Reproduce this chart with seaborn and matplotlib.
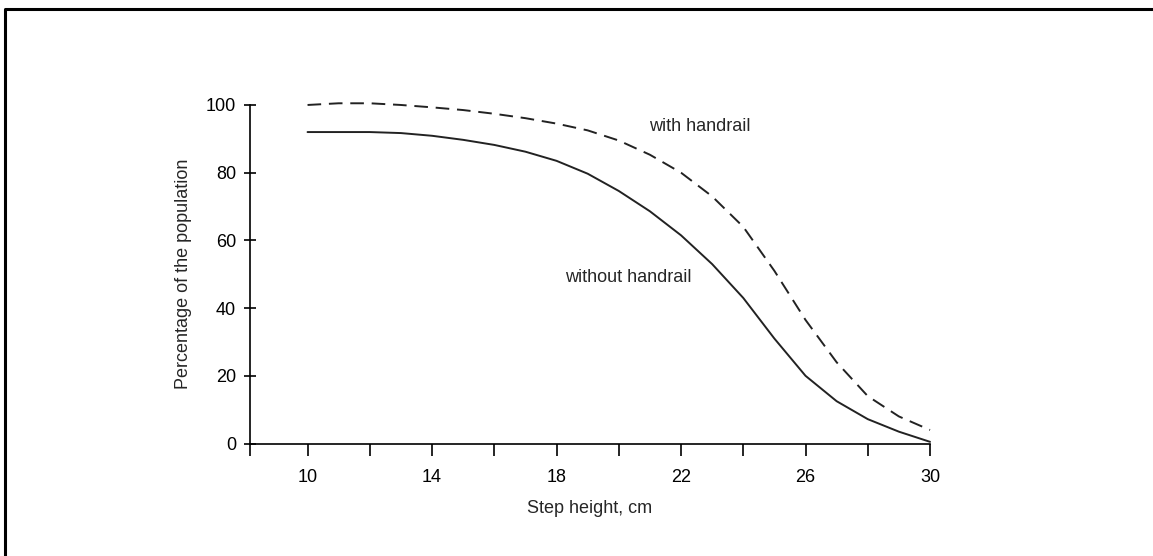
import matplotlib
matplotlib.use("Agg")
import matplotlib.pyplot as plt
from matplotlib.lines import Line2D
import pandas as pd
import seaborn as sns

# Step height (cm) and share of the population able to climb it (%)
step_height = [10, 11, 12, 13, 14, 15, 16, 17, 18, 19, 20,
               21, 22, 23, 24, 25, 26, 27, 28, 29, 30]
without_handrail = [92, 92, 92, 91.7, 90.9, 89.7, 88.2, 86.2, 83.5, 79.7, 74.6,
                    68.6, 61.5, 53, 43, 31, 20, 12.5, 7.2, 3.5, 0.5]
with_handrail = [100, 100.5, 100.5, 100, 99.3, 98.5, 97.4, 96.1, 94.5, 92.5, 89.5,
                 85.3, 80, 73, 64, 51, 36.5, 24, 14, 8, 4]

x_ticks = [10, 12, 14, 16, 18, 20, 22, 24, 26, 28, 30]
x_tick_labels = ["10", "", "14", "", "18", "", "22", "", "26", "", "30"]
y_ticks = [0, 20, 40, 60, 80, 100]

df = pd.DataFrame({
    "height": step_height * 2,
    "pct": without_handrail + with_handrail,
    "series": ["without handrail"] * len(step_height) + ["with handrail"] * len(step_height),
})

sns.set_style("white")
plt.rcParams["font.family"] = ["Liberation Sans", "DejaVu Sans"]
FS = 13

fig = plt.figure(figsize=(11.53, 5.56), dpi=100)
ax = fig.add_axes([0.2168, 0.2023, 0.8066 - 0.2168, 0.8112 - 0.2023])

sns.lineplot(data=df[df.series == "without handrail"], x="height", y="pct",
             color="#222222", linewidth=1.4, ax=ax, clip_on=False)
sns.lineplot(data=df[df.series == "with handrail"], x="height", y="pct",
             color="#222222", linewidth=1.4, ax=ax, clip_on=False)
ax.lines[1].set_dashes((7, 4))
for ln in ax.lines:
    ln.set_solid_joinstyle("round")
    ln.set_dash_joinstyle("round")

x_left = 8.15
ax.set_xlim(x_left, 30)
ax.set_ylim(0, 100)

ax.set_xticks([x_left] + x_ticks)
ax.set_xticklabels([""] + x_tick_labels)
ax.set_yticks(y_ticks)
ax.set_yticklabels([str(v) for v in y_ticks])

for side in ("top", "right"):
    ax.spines[side].set_visible(False)
for side in ("left", "bottom"):
    ax.spines[side].set_linewidth(1.2)
    ax.spines[side].set_color("black")

ax.tick_params(axis="x", bottom=True, direction="out", length=8.6, width=1.2,
               pad=10, labelsize=FS, colors="black")
ax.tick_params(axis="y", left=True, direction="inout", length=8, width=1.2,
               pad=6, labelsize=FS, colors="black")

ax.set_xlabel("Step height, cm", fontsize=FS, labelpad=10)
ax.set_ylabel("Percentage of the population", fontsize=FS, labelpad=10)

ax.text(22.6, 93.5, "with handrail", fontsize=FS, ha="center", va="center")
ax.text(20.3, 49, "without handrail", fontsize=FS, ha="center", va="center")

# Frame along the top and left edges of the figure
fig.add_artist(Line2D([0.0043, 0.0043, 1.0], [0.0, 0.9838, 0.9838],
                      transform=fig.transFigure, color="black", linewidth=2.2))

fig.savefig("out.png", dpi=100)
